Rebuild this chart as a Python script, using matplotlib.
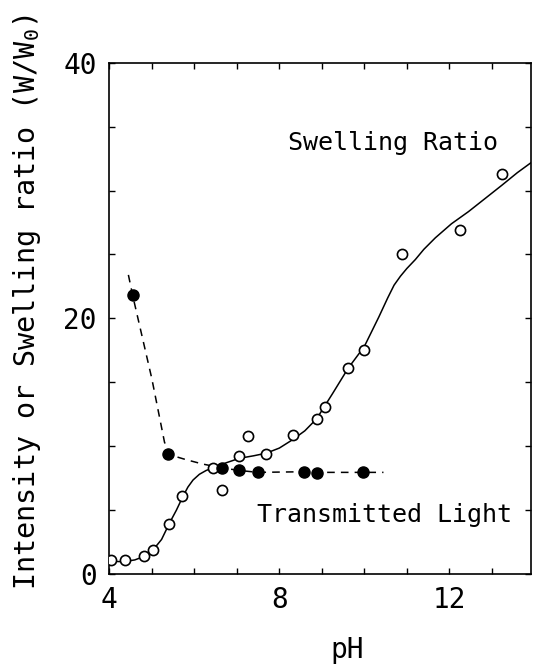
import matplotlib
matplotlib.use("Agg")
import matplotlib.pyplot as plt

# Swelling ratio (open circles)
swell_ph = [4.03, 4.37, 4.81, 5.02, 5.41, 5.72, 6.44, 6.65, 7.06, 7.26, 7.69,
            8.33, 8.88, 9.07, 9.62, 10.0, 10.89, 12.25, 13.24]
swell_val = [1.1, 1.1, 1.4, 1.9, 3.9, 6.1, 8.3, 6.6, 9.2, 10.8, 9.4,
             10.9, 12.15, 13.1, 16.1, 17.5, 25.0, 26.9, 31.3]

# Transmitted light intensity (filled circles)
light_ph = [4.55, 5.37, 6.65, 7.06, 7.5, 8.58, 8.88, 9.97]
light_val = [21.8, 9.4, 8.3, 8.1, 7.95, 8.0, 7.9, 7.95]

# Fitted swelling curve (solid)
fit_ph = [4.0, 4.33, 4.6, 4.8, 4.99, 5.12, 5.23, 5.42, 5.58, 5.73, 5.85, 5.97,
          6.12, 6.28, 6.48, 6.75, 7.06, 7.4, 7.69, 8.0, 8.31, 8.6, 8.88, 9.25,
          9.62, 10.0, 10.34, 10.55, 10.7, 10.85, 11.0, 11.2, 11.4, 11.67, 12.05,
          12.45, 12.85, 13.23, 13.6, 13.93]
fit_val = [1.0, 0.96, 1.1, 1.35, 1.9, 2.25, 2.7, 4.0, 5.0, 6.05, 6.8, 7.35,
           7.8, 8.1, 8.35, 8.7, 9.05, 9.25, 9.45, 9.85, 10.5, 11.2, 12.15, 14.1,
           16.1, 17.8, 20.1, 21.6, 22.6, 23.3, 23.9, 24.6, 25.4, 26.3, 27.4,
           28.35, 29.4, 30.4, 31.4, 32.2]

# Dashed guide for transmitted light
dash_ph = [4.45, 4.55, 5.0, 5.3, 5.45, 5.8, 6.2, 6.65, 7.06, 7.5, 8.58, 8.88, 9.97, 10.45]
dash_val = [23.4, 21.8, 15.3, 10.3, 9.3, 8.95, 8.6, 8.3, 8.1, 7.95, 8.0, 7.95, 7.95, 7.95]

xticks_all = list(range(4, 14))
xtick_labels = {4: "4", 8: "8", 12: "12"}
yticks_all = [0, 5, 10, 15, 20, 25, 30, 35, 40]
ytick_labels = {0: "0", 20: "20", 40: "40"}

plt.rcParams["font.family"] = ["DejaVu Sans Mono"]
plt.rcParams["mathtext.fontset"] = "custom"
plt.rcParams["mathtext.rm"] = "DejaVu Sans Mono"
plt.rcParams["mathtext.it"] = "DejaVu Sans Mono"

fig = plt.figure(figsize=(5.33, 6.70), dpi=100)
ax = fig.add_axes([0.205, 0.1433, 0.792, 0.7631])

ax.plot(fit_ph, fit_val, color="black", lw=1.1, zorder=2)
ax.plot(dash_ph, dash_val, color="black", lw=1.1, ls=(0, (5, 4)), zorder=2)
ax.plot(swell_ph, swell_val, ls="none", marker="o", ms=7.3, mfc="white",
        mec="black", mew=1.2, zorder=3)
ax.plot(light_ph, light_val, ls="none", marker="o", ms=8, mfc="black",
        mec="black", zorder=4)

ax.set_xlim(4, 13.93)
ax.set_ylim(0, 40)
ax.set_xticks(xticks_all)
ax.set_xticklabels([xtick_labels.get(t, "") for t in xticks_all])
ax.set_yticks(yticks_all)
ax.set_yticklabels([ytick_labels.get(t, "") for t in yticks_all])
ax.tick_params(direction="in", length=4, width=1.0, top=True, right=True,
               labelsize=20)
ax.tick_params(axis="x", pad=9)
ax.tick_params(axis="y", pad=9)
for s in ax.spines.values():
    s.set_linewidth(1.2)

ax.text(8.2, 33.2, "Swelling Ratio", fontsize=18, ha="left", va="baseline")
ax.text(7.47, 4.07, "Transmitted Light", fontsize=18, ha="left", va="baseline")

fig.text(0.651, 0.03, "pH", fontsize=20, ha="center", va="center")
fig.text(0.05, 0.549, "Intensity or Swelling ratio (W/W$_0$)", fontsize=20.5,
         rotation=90, ha="center", va="center")

fig.savefig("out.png", dpi=100)
